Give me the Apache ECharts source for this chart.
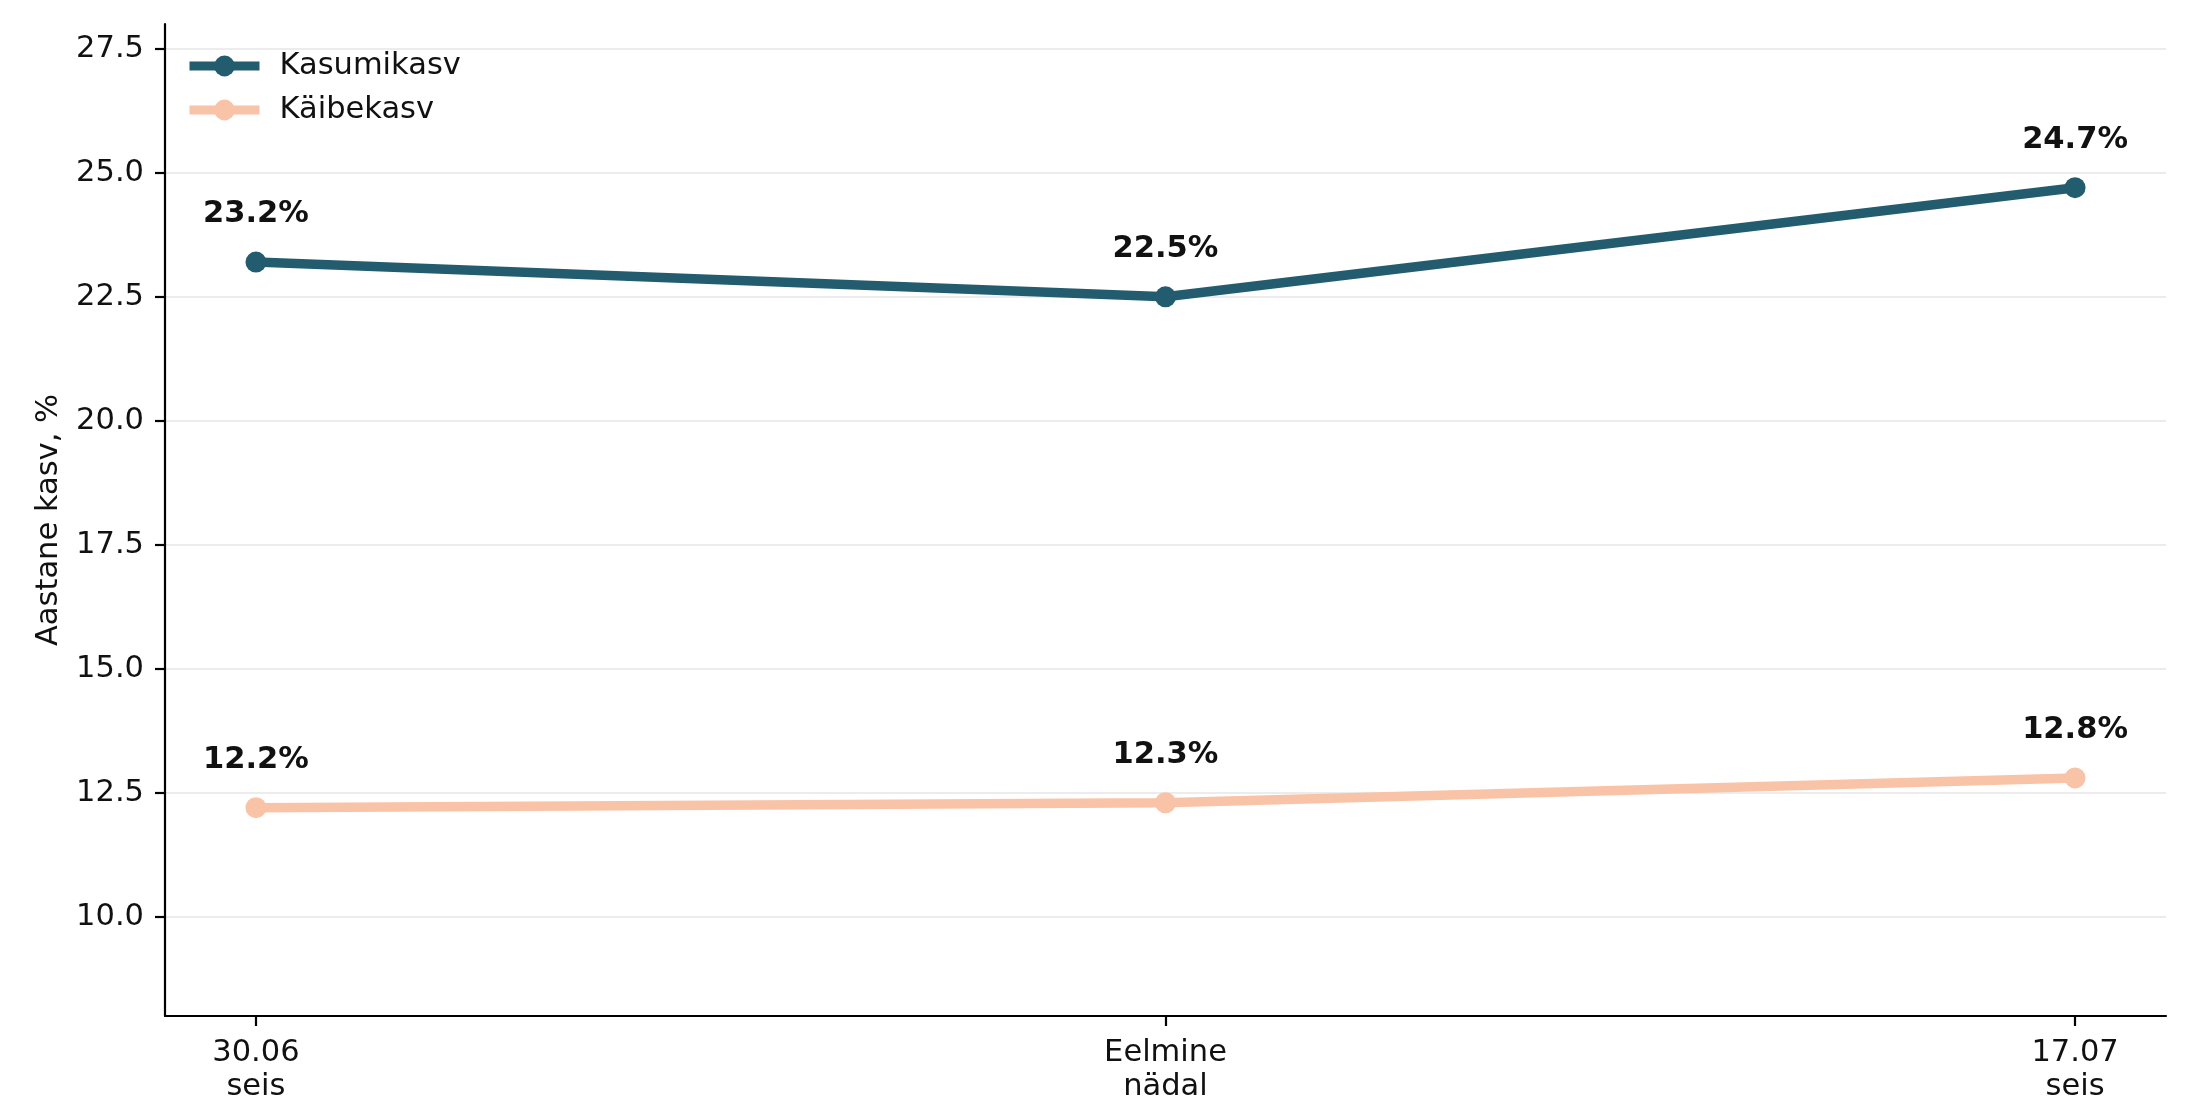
<!DOCTYPE html>
<html>
<head>
<meta charset="utf-8">
<script src="https://cdn.jsdelivr.net/npm/echarts@6/dist/echarts.min.js"></script>
<style>
html,body{margin:0;padding:0;background:#fff;}
#c{width:2200px;height:1118px;}
</style>
</head>
<body>
<div id="c"></div>
<script>
const categories = ["30.06\nseis", "Eelmine\nnädal", "17.07\nseis"];
const kasumikasv = [23.2, 22.5, 24.7];
const kaibekasv = [12.2, 12.3, 12.8];
const yTicks = [10, 12.5, 15, 17.5, 20, 22.5, 25, 27.5];
const xTicks = [0, 1, 2];

const FONT = 'DejaVu Sans';
const FS = 30.5;
const chart = echarts.init(document.getElementById('c'));

function pairs(arr){ return arr.map((v,i)=>[i,v]); }

const labelCfg = {
  show: true, position: 'top', distance: 22,
  formatter: p => p.value[1].toFixed(1) + '%',
  fontFamily: FONT, fontSize: FS, fontWeight: 'bold', color: '#111'
};

chart.setOption({
  animation: false,
  backgroundColor: '#fff',
  grid: {left: 165, right: 34, top: 24, bottom: 102},
  legend: {
    left: 185, top: 49, orient: 'vertical', padding: 0,
    itemWidth: 70, itemHeight: 26, itemGap: 10,
    lineStyle: {width: 9},
    textStyle: {fontFamily: FONT, fontSize: FS, color: '#111', lineHeight: 32, padding: [2,0,0,15]},
    data: ['Kasumikasv', 'Käibekasv']
  },
  xAxis: {
    type: 'value', min: -0.1, max: 2.1,
    axisLine: {show: true, onZero: false, lineStyle: {color: '#000', width: 2.2}},
    axisTick: {show: true, length: 10, customValues: xTicks, lineStyle: {color: '#000', width: 2.2}},
    axisLabel: {customValues: xTicks, formatter: v => categories[Math.round(v)], margin: 20,
      fontFamily: FONT, fontSize: FS, color: '#111', lineHeight: 34, align: 'center'},
    splitLine: {show: false}
  },
  yAxis: {
    type: 'value', min: 8, max: 28,
    name: 'Aastane kasv, %', nameLocation: 'middle', nameGap: 100, nameRotate: 90,
    nameTextStyle: {fontFamily: FONT, fontSize: FS, color: '#111'},
    axisLine: {show: true, onZero: false, lineStyle: {color: '#000', width: 2.2}},
    axisTick: {show: true, length: 10, customValues: yTicks, lineStyle: {color: '#000', width: 2.2}},
    axisLabel: {customValues: yTicks, formatter: v => v.toFixed(1), margin: 21,
      fontFamily: FONT, fontSize: FS, color: '#111'},
    splitLine: {show: true, lineStyle: {color: '#e6e6e6', width: 1.6}}
  },
  series: [
    {
      name: 'Kasumikasv', type: 'line', data: pairs(kasumikasv),
      symbol: 'circle', symbolSize: 21,
      lineStyle: {color: '#245c6f', width: 9.5},
      itemStyle: {color: '#245c6f'},
      label: labelCfg
    },
    {
      name: 'Käibekasv', type: 'line', data: pairs(kaibekasv),
      symbol: 'circle', symbolSize: 21,
      lineStyle: {color: '#f9c3a7', width: 9.5},
      itemStyle: {color: '#f9c3a7'},
      label: labelCfg
    }
  ]
});
</script>
</body>
</html>
